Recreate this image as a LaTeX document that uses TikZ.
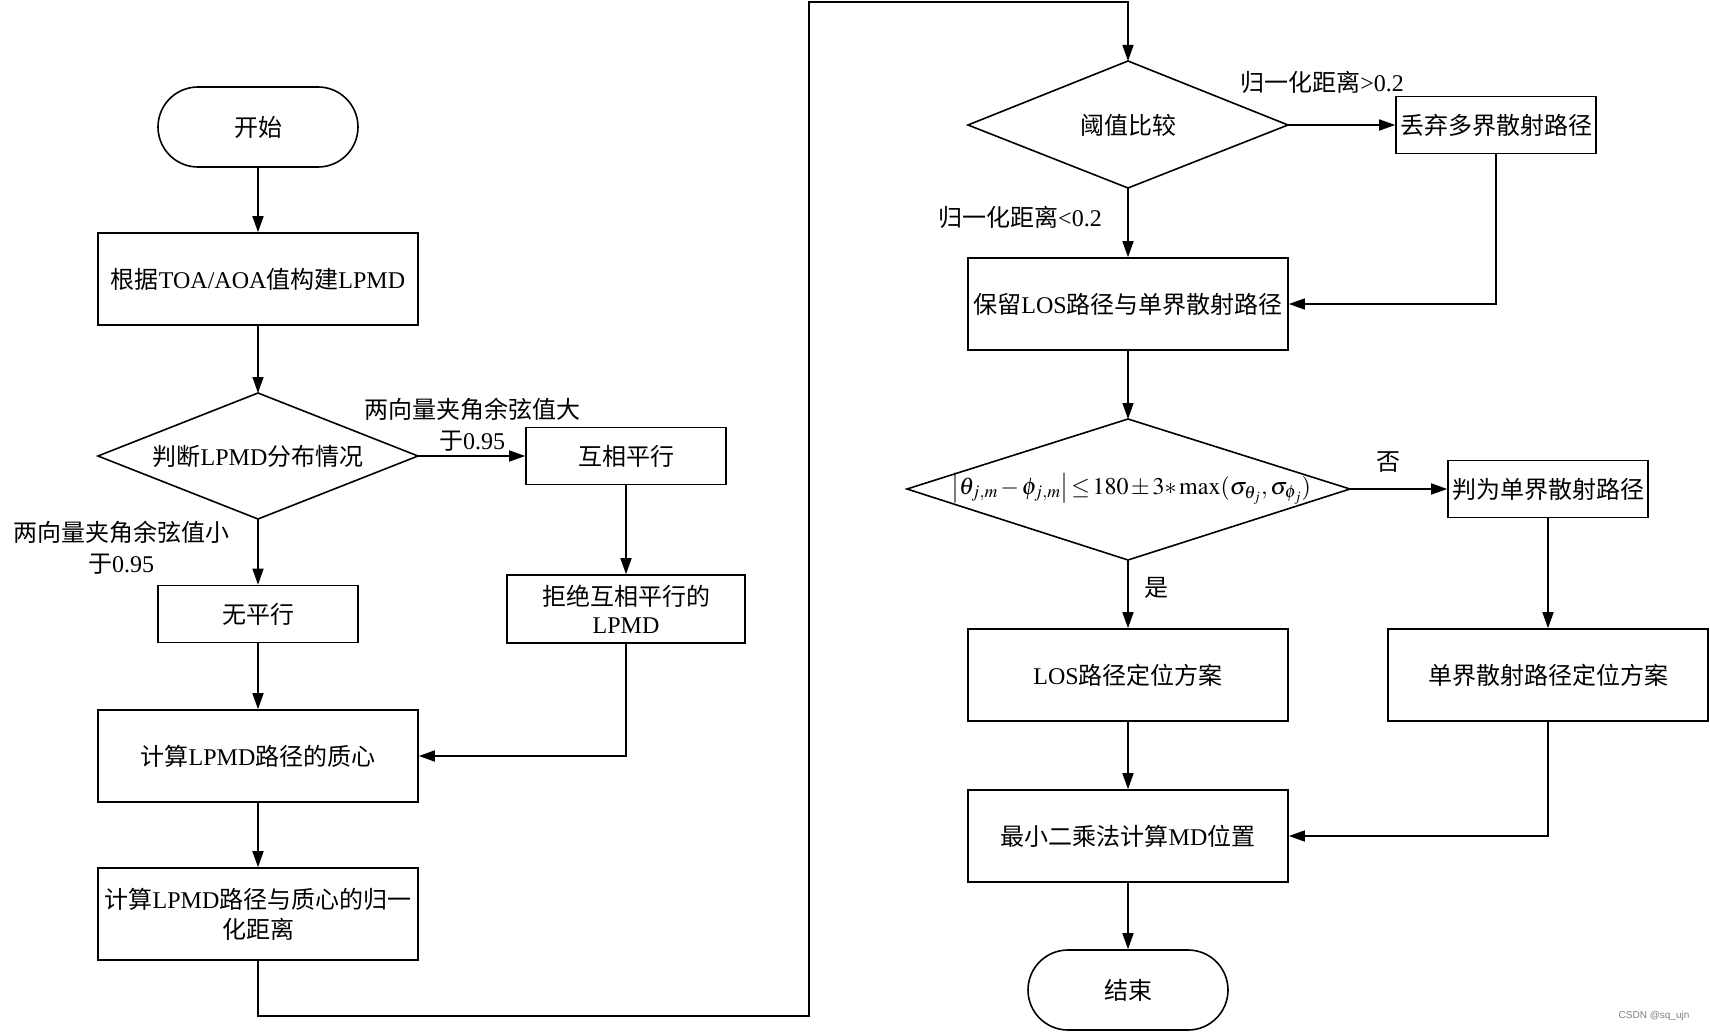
\documentclass[tikz,border=0pt]{standalone}
\usepackage{mathptmx}
\usepackage[no-math]{fontspec}
\setmainfont{Liberation Serif}
\newfontfamily\cjk{Noto Sans CJK SC}
\newfontfamily\wmfont{Liberation Sans}
\newcommand{\zh}[1]{{\cjk #1}}
\usetikzlibrary{arrows.meta}
\begin{document}
\begin{tikzpicture}[x=1pt,y=-1pt,
  every node/.style={font=\fontsize{24}{30}\selectfont},
  base/.style={draw, line width=1.6pt, inner sep=2pt, align=center},
  boxA/.style={base, minimum width=320pt, minimum height=92pt},
  boxB/.style={base, minimum width=200pt, minimum height=57pt},
  term/.style={base, minimum width=200pt, minimum height=80pt, rounded corners=40pt},
  lab/.style={inner sep=0pt, align=center},
  conn/.style={line width=1.6pt, -{Triangle[length=16pt,width=11pt]}},
  line/.style={line width=1.6pt}]
\useasboundingbox (0,0) rectangle (1710,1033);
\fill[white] (0,0) rectangle (1710,1033);

% left column
\node[term] (start) at (258,127) {\zh{开始}};
\node[boxA] (b1) at (258,279) {\zh{根据}TOA/AOA\zh{值构建}LPMD};
\draw[line] (98,456) -- (258,393) -- (418,456) -- (258,519) -- cycle;
\node[inner sep=0pt, minimum width=320pt, minimum height=126pt] (d1) at (258,456) {\zh{判断}LPMD\zh{分布情况}};
\node[boxB] (par) at (626,456) {\zh{互相平行}};
\node[base, minimum width=238pt, minimum height=68pt, inner sep=1pt, font=\fontsize{24}{28}\selectfont] (rej) at (626,609) {\zh{拒绝互相平行的}\\LPMD};
\node[boxB] (nopar) at (258,614) {\zh{无平行}};
\node[boxA] (cen) at (258,756) {\zh{计算}LPMD\zh{路径的质心}};
\node[boxA, font=\fontsize{24}{30}\selectfont] (dist) at (258,914) {\zh{计算}LPMD\zh{路径与质心的归一}\\\zh{化距离}};

\node[lab] (l1) at (472,409) {\zh{两向量夹角余弦值大}};
\node[lab] (l2) at (472,441) {\zh{于}0.95};
\node[lab] (l3) at (121,532) {\zh{两向量夹角余弦值小}};
\node[lab] (l4) at (121,564) {\zh{于}0.95};

\draw[conn] (start) -- (b1);
\draw[conn] (b1) -- (258,393);
\draw[conn] (418,456) -- (par.west);
\draw[conn] (258,519) -- (nopar.north);
\draw[conn] (par) -- (rej);
\draw[conn] (nopar) -- (cen);
\draw[conn] (rej.south) |- (cen.east);
\draw[conn] (cen) -- (dist);

% right column
\coordinate (c1) at (809,1016);
\coordinate (c2) at (809,2);
\coordinate (c3) at (1128,2);
\draw[line] (968,125) -- (1128,61) -- (1288,125) -- (1128,188) -- cycle;
\node[inner sep=0pt, minimum width=320pt, minimum height=126pt] (d2) at (1128,125) {\zh{阈值比较}};
\draw[conn] (dist.south) |- (c1) -- (c2) -- (c3) -- (1128,61);

\node[boxB] (disc) at (1496,125) {\zh{丢弃多界散射路径}};
\node[lab] (l5) at (1322,82) {\zh{归一化距离}>0.2};
\node[lab] (l6) at (1020,217) {\zh{归一化距离}<0.2};
\draw[conn] (1288,125) -- (disc.west);
\node[boxA] (keep) at (1128,304) {\zh{保留}LOS\zh{路径与单界散射路径}};
\draw[conn] (1128,188) -- (keep.north);
\draw[conn] (disc.south) |- (keep.east);

\draw[line] (907,489) -- (1128,419) -- (1350,489) -- (1128,560) -- cycle;
\node[inner sep=0pt, font=\fontsize{24}{28}\selectfont] (d3) at (1131,489) {\medmuskip=2mu\thickmuskip=2mu$\left|\theta_{j,m}-\phi_{j,m}\right|\le 180\pm 3{*}\max(\sigma_{\theta_j},\sigma_{\phi_j})$};
\draw[conn] (keep.south) -- (1128,419);

\node[boxB] (judge) at (1548,489) {\zh{判为单界散射路径}};
\node[lab] (no) at (1388,462) {\zh{否}};
\node[lab] (yes) at (1156,588) {\zh{是}};
\draw[conn] (1350,489) -- (judge.west);

\node[boxA] (los) at (1128,675) {LOS\zh{路径定位方案}};
\node[boxA] (single) at (1548,675) {\zh{单界散射路径定位方案}};
\draw[conn] (1128,560) -- (los.north);
\draw[conn] (judge) -- (single);

\node[boxA] (ls) at (1128,836) {\zh{最小二乘法计算}MD\zh{位置}};
\draw[conn] (los) -- (ls);
\draw[conn] (single.south) |- (ls.east);

\node[term] (end) at (1128,990) {\zh{结束}};
\draw[conn] (ls) -- (end);

\node[lab, font=\wmfont\fontsize{10}{12}\selectfont, text=gray] (wm) at (1654,1016) {CSDN @sq\_ujn};
\end{tikzpicture}
\end{document}
